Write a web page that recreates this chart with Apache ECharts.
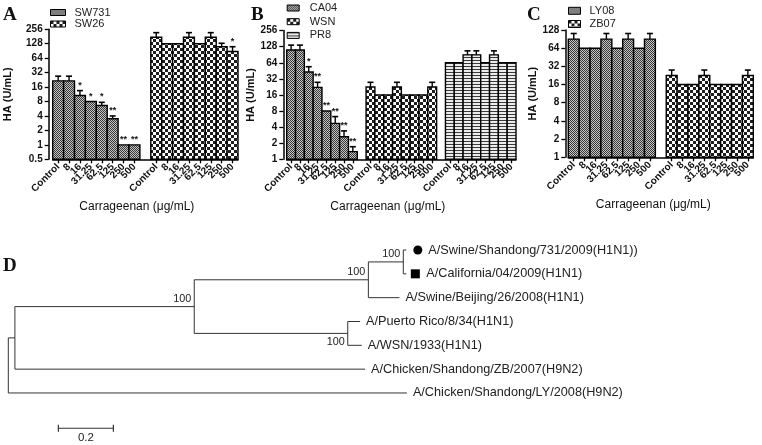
<!DOCTYPE html>
<html><head><meta charset="utf-8">
<script src="https://cdn.jsdelivr.net/npm/echarts@6/dist/echarts.min.js"></script>
<style>html,body{margin:0;padding:0;background:#fff}#main{width:762px;height:445px}</style>
</head><body><div id="main"></div>
<script>
// ---------------- DATA ----------------
const doseLabels = ['Control', '8', '16', '31.25', '62.5', '125', '250', '500'];
const xAxisTitle = 'Carrageenan (μg/mL)';
const yAxisTitle = 'HA (U/mL)';

// Panel A
const rangeA = [0.5, 256];
const sw731HA  = [21.5, 21.5, 10.7, 8, 6.6, 3.5, 1, 1];
const sw731Err = [27, 27, 13.5, null, 7.7, 4.0, null, null];
const sw731Sig = ['', '', '*', '*', '*', '**', '**', '**'];
const sw26HA   = [175, 128, 128, 175, 128, 175, 111, 88];
const sw26Err  = [218, null, null, 218, null, 218, 131, 111];
const sw26Sig  = ['', '', '', '', '', '', '', '*'];

// Panel B
const rangeB = [1, 256];
const ca04HA  = [111, 111, 43, 22.2, 8, 4.7, 2.64, 1.39];
const ca04Err = [137, 137, 54, 27.6, null, 6.3, 3.4, 1.72];
const ca04Sig = ['', '', '*', '**', '**', '**', '**', '**'];
const wsnHA   = [22.6, 16, 16, 22.6, 16, 16, 16, 22.6];
const wsnErr  = [27.6, null, null, 27.6, null, null, null, 27.6];
const pr8HA   = [64, 64, 90, 90, 64, 90, 64, 64];
const pr8Err  = [null, null, 107, 107, null, 107, null, null];

// Panel C
const rangeC = [1, 128];
const ly08HA  = [90.5, 64, 64, 90.5, 64, 90.5, 64, 90.5];
const ly08Err = [112, null, null, 112, null, 112, null, 112];
const zb07HA  = [22.6, 16, 16, 22.6, 16, 16, 16, 22.6];
const zb07Err = [27.8, null, null, 27.8, null, null, null, 27.8];

// Panel D (phylogenetic tree): node parent, distance from root, leaf names, bootstrap
const treeParent = [-1, 0, 1, 2, 3, 2, 4, 4, 3, 5, 5, 1, 0];
const treeDist   = [0, 0.024, 0.676, 1.309, 1.436, 1.234, 1.447, 1.447, 1.422, 1.279, 1.285, 1.297, 1.449];
const treeLeafName = [null, null, null, null, null, null,
  'A/Swine/Shandong/731/2009(H1N1))', 'A/California/04/2009(H1N1)', 'A/Swine/Beijing/26/2008(H1N1)',
  'A/Puerto Rico/8/34(H1N1)', 'A/WSN/1933(H1N1)', 'A/Chicken/Shandong/ZB/2007(H9N2)', 'A/Chicken/Shandong/LY/2008(H9N2)'];
const treeBootstrap = [null, null, 100, 100, 100, 100, null, null, null, null, null, null, null];
const treeLeafOrder = [6, 7, 8, 9, 10, 11, 12];
const treeMarker = {6: 'circle', 7: 'square'};
const treeScaleBar = 0.2;

// ---------------- PATTERNS ----------------
function makePattern(kind) {
  const c = document.createElement('canvas');
  let ctx;
  if (kind === 'fine') {
    c.width = 2; c.height = 2; ctx = c.getContext('2d');
    ctx.fillStyle = '#c4c4c4'; ctx.fillRect(0, 0, 2, 2);
    ctx.fillStyle = '#383838'; ctx.fillRect(0, 0, 1, 1); ctx.fillRect(1, 1, 1, 1);
  } else if (kind === 'coarse') {
    c.width = 6; c.height = 6; ctx = c.getContext('2d');
    ctx.fillStyle = '#ffffff'; ctx.fillRect(0, 0, 6, 6);
    ctx.fillStyle = '#1e1e1e'; ctx.fillRect(0, 0, 3, 3); ctx.fillRect(3, 3, 3, 3);
  } else {
    c.width = 2; c.height = 3; ctx = c.getContext('2d');
    ctx.fillStyle = '#ececec'; ctx.fillRect(0, 0, 2, 3);
    ctx.fillStyle = '#3a3a3a'; ctx.fillRect(0, 0, 2, 1);
  }
  return {image: c, repeat: 'repeat'};
}
const patFine = makePattern('fine');
const patCoarse = makePattern('coarse');
const patStripe = makePattern('stripe');

// ---------------- BUILD ----------------
const FONT = 'Liberation Sans, Arial, sans-serif';
const grids = [], xAxes = [], yAxes = [], series = [], legends = [];

function barRender(pattern, ymin) {
  return function (params, api) {
    const xi = api.value(0), v = api.value(1);
    const top = api.coord([xi, v]);
    const base = api.coord([xi, ymin]);
    const w = api.size([1, 0])[0];
    return {type: 'rect', shape: {x: top[0] - w / 2, y: top[1], width: w, height: base[1] - top[1]},
      style: {fill: pattern, stroke: '#000', lineWidth: 1.4}};
  };
}

function addPanel(gi, grid, range, axisOffset, yNameGap, nameShift, groups, legendPos, textPad) {
  grids.push(grid);
  const cats = [];
  groups.forEach((g, k) => { if (k > 0) cats.push(''); cats.push(...doseLabels); });
  xAxes.push({type: 'category', gridIndex: gi, data: cats, boundaryGap: true,
    axisLine: {lineStyle: {color: '#000', width: 1.5}},
    axisTick: {show: true, alignWithLabel: true, length: 4, interval: (i, v) => v !== '', lineStyle: {color: '#000', width: 1.3}},
    axisLabel: {interval: 0, rotate: 45, margin: 6, fontSize: 10, fontWeight: 'bold', color: '#111', fontFamily: FONT},
    name: xAxisTitle, nameLocation: 'middle', nameGap: 41,
    nameTextStyle: {fontSize: 12, color: '#111', fontFamily: FONT, padding: [0, nameShift, 0, 0]}});
  yAxes.push({type: 'log', logBase: 2, gridIndex: gi, min: range[0], max: range[1], offset: axisOffset,
    axisLine: {show: true, lineStyle: {color: '#000', width: 1.5}},
    axisTick: {show: true, length: 4, lineStyle: {color: '#000', width: 1.3}},
    axisLabel: {fontSize: 10, fontWeight: 'bold', color: '#111', margin: 6, fontFamily: FONT},
    splitLine: {show: false},
    name: yAxisTitle, nameLocation: 'middle', nameGap: yNameGap,
    nameTextStyle: {fontSize: 11, fontWeight: 'bold', color: '#111', fontFamily: FONT}});
  const errItems = [];
  groups.forEach((g, k) => {
    const off = k * 9;
    series.push({type: 'custom', name: g.name, xAxisIndex: gi, yAxisIndex: gi, z: 2,
      itemStyle: {color: g.pattern},
      renderItem: barRender(g.pattern, range[0]),
      data: g.vals.map((v, i) => [off + i, v])});
    g.vals.forEach((v, i) => {
      errItems.push({x: off + i, v: v, e: (g.errs && g.errs[i] != null) ? g.errs[i] : v, s: g.sigs ? g.sigs[i] : ''});
    });
  });
  series.push({type: 'custom', name: 'err' + gi, xAxisIndex: gi, yAxisIndex: gi, z: 3, silent: true,
    data: errItems.map(d => [d.x, d.v, d.e]),
    renderItem: function (params, api) {
      const d = errItems[params.dataIndex];
      const p0 = api.coord([d.x, d.v]);
      const p1 = api.coord([d.x, d.e]);
      const children = [];
      if (d.e > d.v) {
        children.push({type: 'line', shape: {x1: p0[0], y1: p0[1], x2: p1[0], y2: p1[1]}, style: {stroke: '#000', lineWidth: 1.4}});
        children.push({type: 'line', shape: {x1: p1[0] - 3, y1: p1[1], x2: p1[0] + 3, y2: p1[1]}, style: {stroke: '#000', lineWidth: 1.6}});
      }
      if (d.s) {
        children.push({type: 'text', style: {text: d.s, x: p1[0], y: p1[1] - 1, align: 'center', verticalAlign: 'bottom',
          fontSize: 9, fontWeight: 'bold', fill: '#111', fontFamily: FONT}});
      }
      return {type: 'group', children};
    }});
  legends.push(Object.assign({orient: 'vertical', padding: 0, selectedMode: false,
    textStyle: {fontSize: 11, color: '#222', fontFamily: FONT, lineHeight: 11, padding: [0, 0, 0, textPad]},
    data: groups.map(g => ({name: g.name, icon: 'rect', itemStyle: {color: g.pattern, borderColor: '#000', borderWidth: 1}}))}, legendPos));
}

addPanel(0, {left: 52.7, top: 29.3, width: 185.3, height: 130}, rangeA, 4, 35, 17, [
  {name: 'SW731', vals: sw731HA, errs: sw731Err, sigs: sw731Sig, pattern: patFine},
  {name: 'SW26', vals: sw26HA, errs: sw26Err, sigs: sw26Sig, pattern: patCoarse}],
  {left: 50, top: 7, itemWidth: 15, itemHeight: 6, itemGap: 0.5}, 4);
addPanel(1, {left: 286.7, top: 30.6, width: 229.3, height: 128.7}, rangeB, 3.4, 20.5, 27, [
  {name: 'CA04', vals: ca04HA, errs: ca04Err, sigs: ca04Sig, pattern: patFine},
  {name: 'WSN', vals: wsnHA, errs: wsnErr, pattern: patCoarse},
  {name: 'PR8', vals: pr8HA, errs: pr8Err, pattern: patStripe}],
  {left: 286.7, top: 2.5, itemWidth: 12, itemHeight: 6, itemGap: 2.7}, 5.5);
addPanel(2, {left: 568.3, top: 30, width: 185, height: 127.3}, rangeC, 3, 27, 15, [
  {name: 'LY08', vals: ly08HA, errs: ly08Err, pattern: patFine},
  {name: 'ZB07', vals: zb07HA, errs: zb07Err, pattern: patCoarse}],
  {left: 568, top: 5.3, itemWidth: 12, itemHeight: 7, itemGap: 2.2}, 4);

// ---------------- TREE ----------------
const nNodes = treeParent.length;
const children = Array.from({length: nNodes}, () => []);
treeParent.forEach((p, i) => { if (p >= 0) children[p].push(i); });
const treeRow = new Array(nNodes).fill(null);
treeLeafOrder.forEach((n, k) => { treeRow[n] = k; });
function rowOf(i) {
  if (treeRow[i] != null) return treeRow[i];
  const rs = children[i].map(rowOf);
  treeRow[i] = (Math.min(...rs) + Math.max(...rs)) / 2;
  return treeRow[i];
}
rowOf(0);
const bootBelow = {5: true};

grids.push({left: 8.3, top: 250, width: 753.7, height: 190.64});
xAxes.push({type: 'value', gridIndex: 3, min: 0, max: 2.74, show: false});
yAxes.push({type: 'value', gridIndex: 3, min: 0, max: 8, inverse: true, show: false});
const LINE = '#333';
series.push({type: 'custom', name: 'tree', xAxisIndex: 3, yAxisIndex: 3, silent: true,
  data: treeDist.map((d, i) => [d, treeRow[i]]),
  renderItem: function (params, api) {
    const i = params.dataIndex;
    const p = api.coord([treeDist[i], treeRow[i]]);
    const els = [];
    if (treeParent[i] >= 0) {
      const q = api.coord([treeDist[treeParent[i]], treeRow[i]]);
      els.push({type: 'line', shape: {x1: q[0], y1: q[1], x2: p[0], y2: p[1]}, style: {stroke: LINE, lineWidth: 1}});
    }
    if (children[i].length) {
      const rs = children[i].map(c => treeRow[c]);
      const a = api.coord([treeDist[i], Math.min(...rs)]);
      const b = api.coord([treeDist[i], Math.max(...rs)]);
      els.push({type: 'line', shape: {x1: a[0], y1: a[1], x2: b[0], y2: b[1]}, style: {stroke: LINE, lineWidth: 1}});
    }
    if (treeBootstrap[i] != null) {
      els.push({type: 'text', style: {text: String(treeBootstrap[i]), x: p[0] - 3, y: bootBelow[i] ? p[1] + 9 : p[1] - 8,
        align: 'right', verticalAlign: 'middle', fontSize: 10.8, fill: '#222', fontFamily: FONT}});
    }
    if (treeLeafName[i]) {
      let tx = p[0] + 6;
      if (treeMarker[i] === 'circle') {
        els.push({type: 'circle', shape: {cx: p[0] + 11.5, cy: p[1], r: 4.5}, style: {fill: '#000'}});
        tx = p[0] + 22;
      } else if (treeMarker[i] === 'square') {
        els.push({type: 'rect', shape: {x: p[0] + 4.5, y: p[1] - 4.5, width: 9, height: 9}, style: {fill: '#000'}});
        tx = p[0] + 20;
      }
      els.push({type: 'text', style: {text: treeLeafName[i], x: tx, y: p[1], align: 'left', verticalAlign: 'middle',
        fontSize: 12.7, fill: '#222', fontFamily: FONT}});
    }
    return {type: 'group', children: els};
  }});
series.push({type: 'custom', name: 'scalebar', xAxisIndex: 3, yAxisIndex: 3, silent: true,
  data: [[0.182, 7.48]],
  renderItem: function (params, api) {
    const x = api.value(0), r = api.value(1);
    const a = api.coord([x, r]);
    const b = api.coord([x + treeScaleBar, r]);
    return {type: 'group', children: [
      {type: 'line', shape: {x1: a[0], y1: a[1], x2: b[0], y2: b[1]}, style: {stroke: LINE, lineWidth: 1.2}},
      {type: 'line', shape: {x1: a[0], y1: a[1] - 3.5, x2: a[0], y2: a[1] + 3.5}, style: {stroke: LINE, lineWidth: 1.2}},
      {type: 'line', shape: {x1: b[0], y1: b[1] - 3.5, x2: b[0], y2: b[1] + 3.5}, style: {stroke: LINE, lineWidth: 1.2}},
      {type: 'text', style: {text: String(treeScaleBar), x: (a[0] + b[0]) / 2, y: a[1] + 10, align: 'center', verticalAlign: 'middle',
        fontSize: 11.5, fill: '#222', fontFamily: FONT}}]};
  }});

// ---------------- CHART ----------------
const chart = echarts.init(document.getElementById('main'), null, {renderer: 'canvas'});
const letterStyle = {fontSize: 19, fontWeight: 'bold', fontFamily: 'Liberation Serif, Times New Roman, serif', fill: '#111', verticalAlign: 'middle'};
chart.setOption({
  animation: false,
  backgroundColor: '#fff',
  grid: grids, xAxis: xAxes, yAxis: yAxes, legend: legends, series: series,
  graphic: [
    {type: 'text', left: 3, top: 6, style: Object.assign({text: 'A'}, letterStyle)},
    {type: 'text', left: 251, top: 6, style: Object.assign({text: 'B'}, letterStyle)},
    {type: 'text', left: 527, top: 6, style: Object.assign({text: 'C'}, letterStyle)},
    {type: 'text', left: 3, top: 257, style: Object.assign({text: 'D'}, letterStyle)}
  ]
});
</script></body></html>
